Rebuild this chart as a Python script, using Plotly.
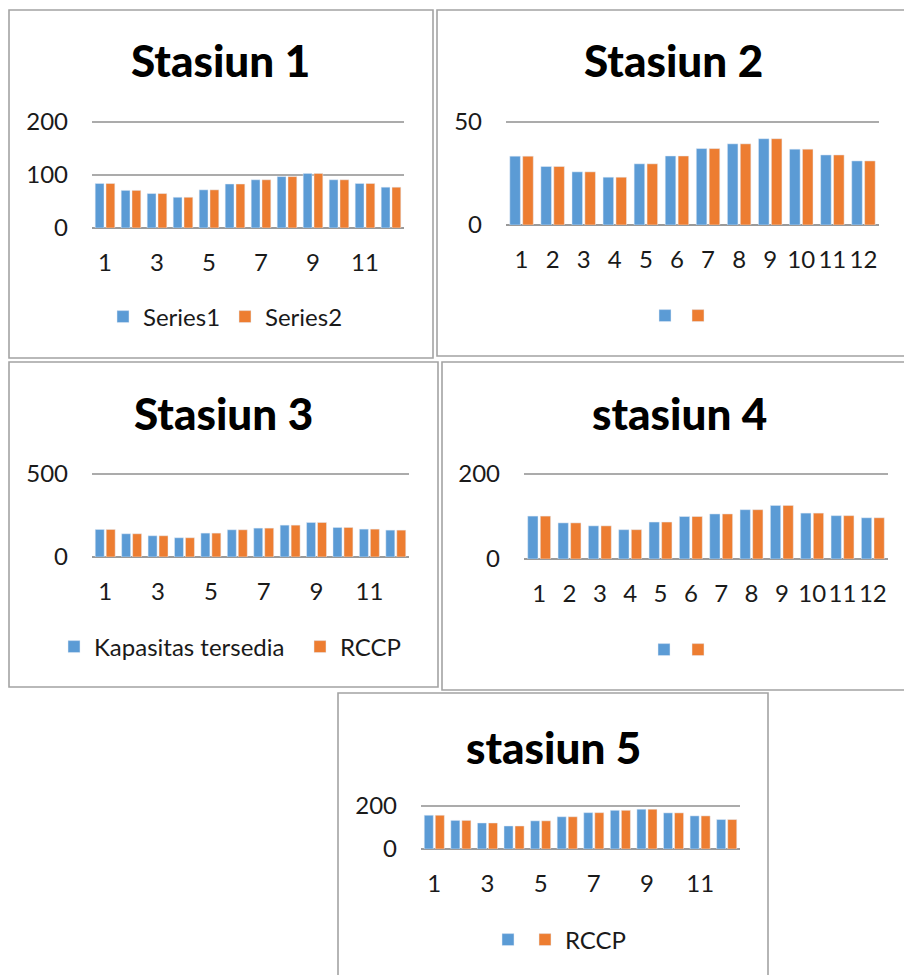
import plotly.graph_objects as go

W, H = 904, 975

months = list(range(1, 13))
odd_months = [1, 3, 5, 7, 9, 11]

# Station values (blue = available capacity, orange = RCCP load)
st1_blue = [84, 71, 65, 58, 72, 83, 91, 97, 103, 91, 84, 77]
st1_orange = [84, 71, 65, 58, 72, 83, 91, 97, 103, 91, 84, 77]
st2_blue = [33.4, 28.4, 25.8, 23.2, 29.7, 33.5, 37.1, 39.4, 41.9, 36.8, 34.0, 31.1]
st2_orange = [33.4, 28.4, 25.8, 23.2, 29.7, 33.5, 37.1, 39.4, 41.9, 36.8, 34.0, 31.1]
st3_blue = [166, 140, 128, 116, 144, 164, 174, 192, 208, 178, 168, 162]
st3_orange = [166, 140, 128, 116, 144, 164, 174, 192, 208, 178, 168, 162]
st4_blue = [101, 85, 78, 69, 87, 100, 106, 116, 126, 108, 102, 97]
st4_orange = [101, 85, 78, 69, 87, 100, 106, 116, 126, 108, 102, 97]
st5_blue = [157, 133, 121, 107, 131, 150, 169, 180, 185, 168, 154, 137]
st5_orange = [157, 133, 121, 107, 131, 150, 169, 180, 185, 168, 154, 137]

titles = ["Stasiun 1", "Stasiun 2", "Stasiun 3", "stasiun 4", "stasiun 5"]
legend_names = [("Series1", "Series2"), ("", ""), ("Kapasitas tersedia", "RCCP"),
                ("", ""), ("", "RCCP")]
y_max = [200, 50, 500, 200, 200]
y_step = [100, 50, 500, 200, 200]
x_ticks = [odd_months, months, odd_months, months, odd_months]

BLUE = "#5B9BD5"
ORANGE = "#ED7D31"
GRID = "#ABABAB"
BORDER = "#A3A3A3"
TEXT = "#1A1A1A"
FONT = "Lato"


def fx(x):
    return x / W


def fy(y):
    return 1 - y / H


# pixel layout of each chart block
boxes = [(9, 10, 433, 358), (437, 10, 907, 356), (9, 362, 438, 687),
         (442, 362, 907, 690), (338, 693, 768, 980)]
plots = [(92, 122, 404, 228), (506, 122, 879, 225), (92, 474, 409, 557),
         (524, 474, 888, 559), (421, 806, 740, 849)]
title_pos = [(220, 60), (673, 60), (223, 413), (679, 413), (553, 747)]
# legend swatch centres: (blue x, orange x, row y)
legend_pos = [(123, 245, 317), (665, 698, 316), (74, 320, 647),
              (664, 698, 650), (508, 545, 940)]
SWATCH_OFFSET = 20  # swatch centre sits this far right of the legend's left edge
TOP_PAD = 3  # extra px above the top tick so its gridline is not clipped

series = [(st1_blue, st1_orange), (st2_blue, st2_orange), (st3_blue, st3_orange),
          (st4_blue, st4_orange), (st5_blue, st5_orange)]

fig = go.Figure()
layout = dict(
    width=W, height=H, autosize=False, showlegend=True,
    margin=dict(l=0, r=0, t=0, b=0, autoexpand=False),
    paper_bgcolor="white", plot_bgcolor="white",
    barmode="group", bargap=0.17, bargroupgap=0.18,
    font=dict(family=FONT, size=24, color=TEXT),
    shapes=[], annotations=[],
)


def legend_box(x_center, y_center):
    return dict(
        orientation="h", x=fx(x_center - SWATCH_OFFSET), y=fy(y_center),
        xanchor="left", yanchor="middle", xref="paper", yref="paper",
        bgcolor="rgba(0,0,0,0)", font=dict(size=24, color=TEXT), itemwidth=30,
        visible=True,
    )


for i in range(5):
    n = "" if i == 0 else str(i + 1)
    xa, ya = "x" + n, "y" + n
    lg_blue = "legend" if i == 0 else "legend" + str(2 * i + 1)
    lg_orange = "legend" + str(2 * i + 2)
    blue, orange = series[i]
    bname, oname = legend_names[i]
    fig.add_trace(go.Bar(x=months, y=blue, name=bname, marker_color=BLUE,
                         xaxis=xa, yaxis=ya, legend=lg_blue, showlegend=True,
                         hoverinfo="x+y"))
    fig.add_trace(go.Bar(x=months, y=orange, name=oname, marker_color=ORANGE,
                         xaxis=xa, yaxis=ya, legend=lg_orange, showlegend=True,
                         hoverinfo="x+y"))

    x0, y0, x1, y1 = plots[i]
    plot_h = y1 - y0
    layout["xaxis" + n] = dict(
        domain=[fx(x0), fx(x1)], anchor=ya, range=[0.5, 12.5],
        tickmode="array", tickvals=x_ticks[i], ticktext=[str(v) for v in x_ticks[i]],
        tickangle=0, showgrid=False, zeroline=False, showline=False, ticks="",
        ticklabelstandoff=18, tickfont=dict(size=24), fixedrange=True,
        automargin=False,
    )
    layout["yaxis" + n] = dict(
        domain=[fy(y1), fy(y0 - TOP_PAD)], anchor=xa,
        range=[0, y_max[i] * (plot_h + TOP_PAD) / plot_h],
        tickmode="linear", tick0=0, dtick=y_step[i],
        showgrid=True, gridcolor=GRID, gridwidth=1.6,
        zeroline=True, zerolinecolor="#9A9A9A", zerolinewidth=2,
        showline=False, ticks="", ticklabelstandoff=23,
        tickfont=dict(size=24), fixedrange=True, automargin=False,
    )

    bx, ox, ly = legend_pos[i]
    layout[lg_blue] = legend_box(bx, ly)
    layout[lg_orange] = legend_box(ox, ly)

    bx0, by0, bx1, by1 = boxes[i]
    layout["shapes"].append(dict(
        type="rect", xref="paper", yref="paper",
        x0=fx(bx0), x1=fx(bx1), y0=fy(by1), y1=fy(by0),
        line=dict(color=BORDER, width=1.6), fillcolor="rgba(0,0,0,0)", layer="below",
    ))

    tx, ty = title_pos[i]
    layout["annotations"].append(dict(
        text=titles[i], x=fx(tx), y=fy(ty),
        xref="paper", yref="paper", xanchor="center", yanchor="middle",
        showarrow=False,
        font=dict(family=FONT, size=44, color="#000000", weight=900),
    ))

fig.update_layout(**layout)
fig.write_html("out.html", config={"displayModeBar": False})
